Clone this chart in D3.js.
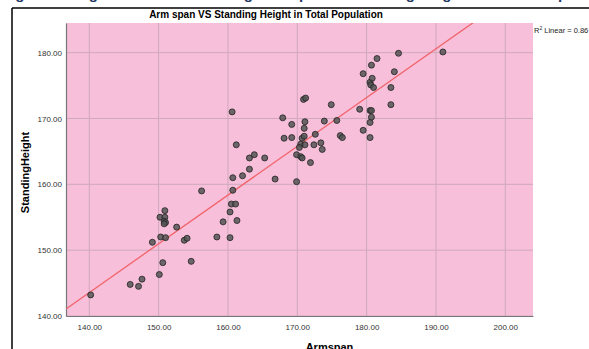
<!DOCTYPE html>
<html>
<head>
<meta charset="utf-8">
<script src="https://cdn.jsdelivr.net/npm/d3@7"></script>
<style>
  body { margin: 0; background: #fff; }
  svg { display: block; font-family: "Liberation Sans", Arial, sans-serif; }
</style>
</head>
<body>
<div id="chart"></div>
<script>
// arm span (cm)
const armspan = [
  140.2, 145.9, 147.1, 147.6, 150.1, 150.6, 154.7, 149.1, 150.3, 151.0,
  153.7, 154.1, 152.6, 150.2, 150.9, 150.9, 150.8, 151.0, 150.8, 156.2,
  158.4, 160.3, 159.3, 161.3, 160.3, 160.5, 161.1, 160.7, 160.7, 162.1,
  163.1, 163.1, 163.8, 165.3, 166.8, 169.9, 161.2, 160.6, 167.9, 169.2,
  170.9, 171.2, 171.1, 171.0, 173.9, 175.7, 174.9, 168.1, 169.2, 170.7,
  171.0, 172.6, 170.5, 171.1, 170.3, 172.4, 173.4, 173.6, 176.2, 176.5,
  169.9, 170.5, 170.7, 171.9, 179.0, 179.5, 180.5, 180.5, 180.7, 180.5,
  180.7, 183.5, 183.5, 184.0, 180.5, 180.6, 181.0, 180.8, 179.5, 180.7,
  181.5, 184.6, 191.0
];
// standing height (cm)
const standingHeight = [
  143.2, 144.8, 144.5, 145.6, 146.3, 148.1, 148.3, 151.2, 152.0, 151.9,
  151.5, 151.8, 153.5, 155.0, 155.0, 156.0, 154.4, 154.2, 154.0, 159.0,
  152.0, 151.9, 154.3, 154.5, 155.8, 157.0, 157.0, 159.1, 161.0, 161.3,
  162.3, 164.0, 164.5, 164.0, 160.8, 160.4, 166.0, 171.0, 170.1, 169.1,
  172.9, 173.1, 169.5, 168.5, 169.6, 169.7, 172.1, 167.0, 167.1, 167.0,
  167.3, 167.6, 166.1, 166.0, 165.6, 166.0, 166.3, 165.3, 167.4, 167.1,
  164.5, 164.2, 164.0, 163.3, 171.4, 168.2, 167.1, 169.4, 170.2, 171.2,
  171.2, 172.1, 174.7, 177.1, 175.5, 175.1, 174.7, 176.1, 176.8, 178.1,
  179.1, 179.9, 180.1
];
const xTicks = [140, 150, 160, 170, 180, 190, 200];
const yTicks = [140, 150, 160, 170, 180];
const rSquared = 0.86;
const titleText = "Arm span VS Standing Height in Total Population";
const captionText = "Figure 4: Regression Line Showing Arm span vs Standing Height in Total Sample";

const width = 589, height = 349;
const plot = { left: 66, right: 533, top: 23, bottom: 316 };

const svg = d3.select("#chart").append("svg")
  .attr("width", width)
  .attr("height", height);

// caption cut by the crop, only the descenders are visible
svg.append("text")
  .attr("x", 2).attr("y", -1)
  .style("font-size", "15px").style("font-weight", "bold")
  .style("fill", "#1f3864")
  .text(captionText);

// outer frame of the figure
svg.append("line").attr("x1", 12).attr("x2", 12).attr("y1", 8).attr("y2", height)
  .style("stroke", "#000").style("stroke-width", 1.5);
svg.append("line").attr("x1", 12).attr("x2", width).attr("y1", 8).attr("y2", 8)
  .style("stroke", "#000").style("stroke-width", 1.5);

const x = d3.scaleLinear().domain([136.64, 204.0]).range([plot.left, plot.right]);
const y = d3.scaleLinear().domain([140, 184.5]).range([plot.bottom, plot.top]);

svg.append("rect")
  .attr("x", plot.left).attr("y", plot.top)
  .attr("width", plot.right - plot.left).attr("height", plot.bottom - plot.top)
  .style("fill", "#f7bfd9");

// grid
svg.append("g").selectAll("line").data(xTicks).enter().append("line")
  .attr("x1", d => x(d)).attr("x2", d => x(d))
  .attr("y1", plot.top).attr("y2", plot.bottom)
  .style("stroke", "#cfa9bd").style("stroke-width", 1);
svg.append("g").selectAll("line").data(yTicks).enter().append("line")
  .attr("x1", plot.left).attr("x2", plot.right)
  .attr("y1", d => y(d)).attr("y2", d => y(d))
  .style("stroke", "#cfa9bd").style("stroke-width", 1);

// axes
const xAxis = svg.append("g")
  .attr("transform", `translate(0,${plot.bottom})`)
  .call(d3.axisBottom(x).tickValues(xTicks).tickFormat(d3.format(".2f")).tickSize(0).tickPadding(8));
const yAxis = svg.append("g")
  .attr("transform", `translate(${plot.left},0)`)
  .call(d3.axisLeft(y).tickValues(yTicks).tickFormat(d3.format(".2f")).tickSize(0).tickPadding(4));
[xAxis, yAxis].forEach(g => {
  g.select(".domain").style("stroke", "#777").style("stroke-width", 1.2);
  g.selectAll("text").style("font-size", "8px").style("fill", "#333")
    .style("font-family", "\"Liberation Sans\", Arial, sans-serif");
});

// least squares fit
const n = armspan.length;
const mx = d3.mean(armspan), my = d3.mean(standingHeight);
let sxy = 0, sxx = 0;
for (let i = 0; i < n; i++) {
  sxy += (armspan[i] - mx) * (standingHeight[i] - my);
  sxx += (armspan[i] - mx) * (armspan[i] - mx);
}
const slope = sxy / sxx;
const intercept = my - slope * mx;

svg.append("clipPath").attr("id", "clip").append("rect")
  .attr("x", plot.left).attr("y", plot.top)
  .attr("width", plot.right - plot.left).attr("height", plot.bottom - plot.top);

const xd = x.domain();
svg.append("line")
  .attr("clip-path", "url(#clip)")
  .attr("x1", x(xd[0])).attr("y1", y(intercept + slope * xd[0]))
  .attr("x2", x(xd[1])).attr("y2", y(intercept + slope * xd[1]))
  .style("stroke", "#f2636b").style("stroke-width", 1.3);

// points
svg.append("g").selectAll("circle").data(armspan).enter().append("circle")
  .attr("cx", d => x(d))
  .attr("cy", (d, i) => y(standingHeight[i]))
  .attr("r", 3)
  .style("fill", "#555")
  .style("fill-opacity", 0.85)
  .style("stroke", "#222")
  .style("stroke-width", 0.8);

// texts
svg.append("text")
  .attr("x", 266).attr("y", 18)
  .attr("text-anchor", "middle")
  .style("font-size", "10px").style("font-weight", "bold")
  .text(titleText);

const r2 = svg.append("text")
  .attr("x", 534).attr("y", 33)
  .style("font-size", "7.5px").style("fill", "#222");
r2.append("tspan").text("R");
r2.append("tspan").attr("dy", -3).style("font-size", "5px").text("2");
r2.append("tspan").attr("dy", 3).text(" Linear = " + rSquared.toFixed(2));

svg.append("text")
  .attr("transform", `translate(29,${(plot.top + plot.bottom) / 2 + 3}) rotate(-90)`)
  .attr("text-anchor", "middle")
  .style("font-size", "11px").style("font-weight", "bold")
  .text("StandingHeight");

svg.append("text")
  .attr("x", (plot.left + plot.right) / 2 + 30).attr("y", 351)
  .attr("text-anchor", "middle")
  .style("font-size", "11px").style("font-weight", "bold")
  .text("Armspan");
</script>
</body>
</html>
